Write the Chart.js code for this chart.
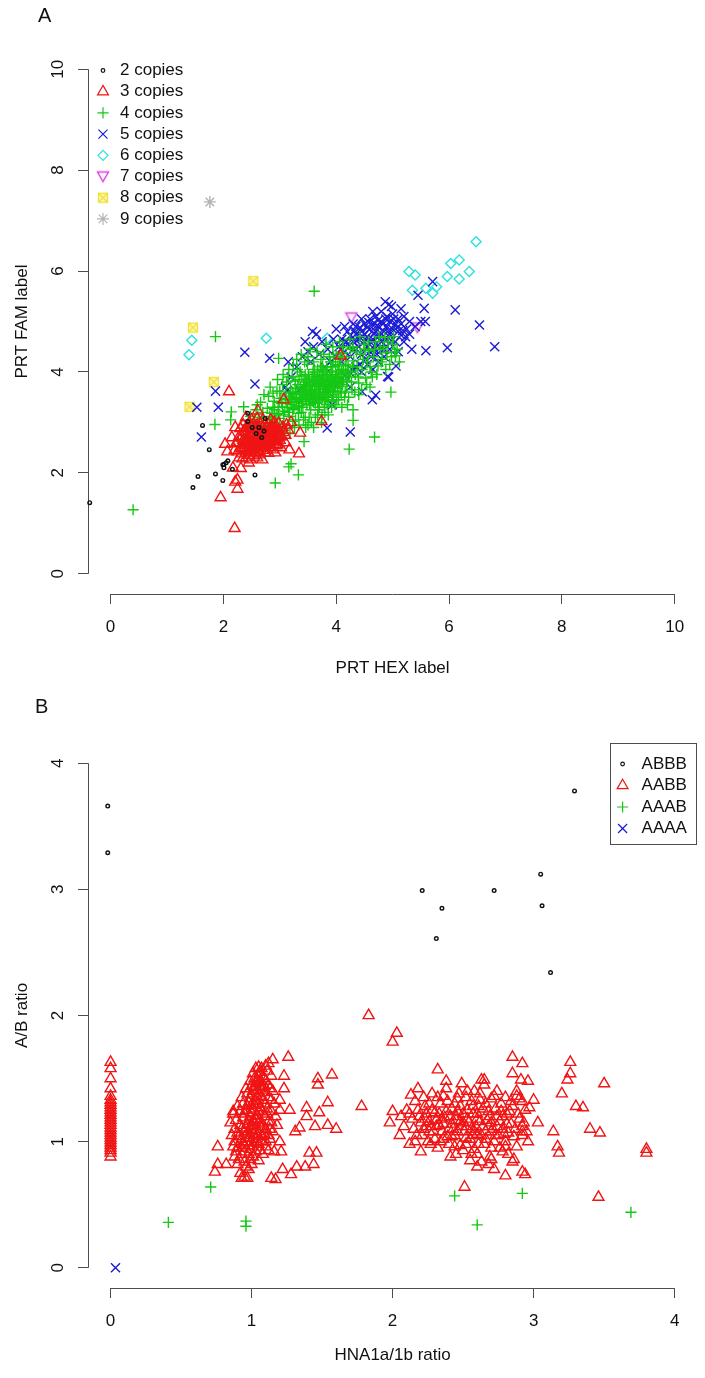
<!DOCTYPE html>
<html>
<head>
<meta charset="utf-8">
<script src="https://cdn.jsdelivr.net/npm/chart.js@4"></script>
<style>
  body { margin: 0; background: #fff; font-family: "Liberation Sans", Arial, sans-serif; }
  #wrap { position: relative; width: 705px; height: 1378px; }
  canvas { position: absolute; left: 0; }
  .tag { position: absolute; font-size: 20px; color: #111; line-height: 24px; }
</style>
</head>
<body>
<div id="wrap">
  <canvas id="plotA" width="705" height="690" style="top:0"></canvas>
  <canvas id="plotB" width="705" height="688" style="top:690px"></canvas>
  <div class="tag" style="left:38px;top:3px">A</div>
  <div class="tag" style="left:35px;top:694px">B</div>
</div>
<script>
// ---- panel A : PRT HEX (x) vs PRT FAM (y), by copy number
const hexTicks = [0, 2, 4, 6, 8, 10];
const famTicks = [0, 2, 4, 6, 8, 10];
const copyLabels = ['2 copies', '3 copies', '4 copies', '5 copies', '6 copies', '7 copies', '8 copies', '9 copies'];

const copies2 = [[-0.37,1.41],[1.63,2.94],[1.75,2.46],[1.55,1.93],[1.46,1.71],[1.86,1.98],[1.99,1.85],[1.99,2.16],
  [2.01,2.17],[2.05,2.2],[2.01,2.1],[2.08,2.24],[2.16,2.07],[2.56,1.96],[2.43,3.02],[2.43,3.18],[2.51,2.9],
  [2.63,2.9],[2.72,2.83],[2.74,3.08],[2.58,2.78],[2.68,2.7]];

const copies3 = [[2.3,2.5],[2.35,2.65],[2.4,2.45],[2.4,2.8],[2.45,2.6],[2.45,2.35],[2.5,2.7],[2.5,2.5],[2.5,2.9],
  [2.55,2.6],[2.55,2.4],[2.55,2.8],[2.6,2.7],[2.6,2.5],[2.6,2.95],[2.65,2.6],[2.65,2.8],[2.65,2.4],[2.7,2.7],
  [2.7,2.55],[2.7,2.9],[2.75,2.65],[2.75,2.8],[2.75,2.5],[2.8,2.75],[2.8,2.6],[2.8,2.95],[2.85,2.7],[2.85,2.85],
  [2.85,2.55],[2.9,2.8],[2.9,2.65],[2.95,2.75],[2.95,2.9],[3.0,2.8],[3.0,2.65],[3.05,2.9],[3.1,2.75],[2.38,2.55],
  [2.42,2.72],[2.48,2.58],[2.52,2.78],[2.58,2.52],[2.62,2.62],[2.68,2.74],[2.72,2.62],[2.78,2.7],[2.82,2.82],
  [2.88,2.72],[2.92,2.88],[2.32,2.38],[2.28,2.3],[2.45,2.2],[2.6,2.3],[2.35,2.95],[2.5,3.05],[2.7,3.05],[2.9,3.0],
  [3.1,2.6],[3.15,2.85],[2.25,2.6],[2.2,2.45],[2.66,2.5],[2.56,2.68],[2.46,2.88],[2.76,2.92],[2.96,2.56],[3.2,3.0],
  [2.15,2.7],[2.4,3.1],
  [2.33,2.72],[2.37,2.48],[2.43,2.62],[2.47,2.42],[2.53,2.55],[2.57,2.86],[2.63,2.76],[2.67,2.66],[2.73,2.45],
  [2.77,2.58],[2.83,2.65],[2.87,2.78],[2.93,2.62],[2.97,2.7],[3.03,2.72],[3.07,2.8],[2.52,2.65],[2.62,2.86],
  [2.72,2.78],[2.82,2.5],[2.42,2.9],[2.36,2.82],[2.28,2.72],[2.22,2.58],[2.26,2.42],[2.34,2.28],[2.54,2.34],
  [2.64,2.36],[2.74,2.4],[2.88,2.46],[2.98,2.98],[3.12,2.95],[2.84,3.05],[2.6,3.08],[2.46,3.0],[2.3,2.88],
  [3.02,2.5],[2.92,2.4],[2.5,2.4],[2.4,2.3],
  [2.36,2.58],[2.44,2.68],[2.52,2.72],[2.58,2.62],[2.64,2.7],[2.68,2.58],[2.74,2.72],[2.78,2.82],[2.84,2.75],
  [2.88,2.62],[2.46,2.5],[2.54,2.46],[2.62,2.44],[2.7,2.62],[2.76,2.55],[2.92,2.72],[3.0,2.72],[2.4,2.62],
  [2.48,2.8],[2.56,2.9],[2.66,2.96],[2.72,2.52],[2.8,2.68],[2.86,2.92],[2.6,2.6],[2.5,2.6],[2.7,2.8],[2.9,2.9],
  [2.32,2.48],[2.96,2.82],
  [2.1,3.61],[2.2,0.9],[1.95,1.51],[2.25,1.68],[2.21,1.82],[2.25,1.86],[2.31,2.09],[2.17,2.1],[2.03,2.57],
  [2.07,2.42],[2.21,2.9],[3.34,2.38],[3.17,2.46],[3.07,3.45],[3.74,3.02],[4.08,4.32],[3.36,2.79],[2.61,3.23],
  [2.69,2.26],[2.48,2.26],[2.8,2.39],[2.94,2.54]];

const copies4 = [[2.32,2.62],[2.41,2.95],[2.48,3.12],[2.55,2.82],[2.58,3.25],[2.63,2.95],[2.66,3.4],[2.71,3.08],
  [2.74,2.78],[2.78,3.28],[2.8,3.52],[2.84,3.0],[2.86,3.18],[2.9,3.42],[2.93,2.86],[2.95,3.62],[2.97,3.3],[3.0,3.08],
  [3.02,3.48],[3.05,3.75],[3.07,2.96],[3.09,3.22],[3.11,3.58],[3.13,3.38],[3.15,3.9],[3.17,3.12],[3.19,3.68],
  [3.21,3.48],[3.23,3.02],[3.25,3.28],[3.27,3.82],[3.29,3.58],[3.31,4.05],[3.33,3.18],[3.35,3.42],[3.37,3.7],
  [3.39,3.92],[3.41,3.3],[3.43,3.55],[3.45,3.1],[3.47,3.8],[3.49,4.15],[3.51,3.45],[3.53,3.65],[3.55,3.25],
  [3.57,3.9],[3.59,3.55],[3.61,4.05],[3.63,3.38],[3.65,3.75],[3.67,3.15],[3.69,3.6],[3.71,3.95],[3.73,4.25],
  [3.75,3.48],[3.77,3.72],[3.79,3.3],[3.81,3.88],[3.83,4.1],[3.85,3.6],[3.87,3.42],[3.89,3.8],[3.91,4.0],
  [3.93,3.55],[3.95,4.3],[3.97,3.7],[3.99,3.88],[4.01,3.45],[4.03,4.12],[4.05,3.78],[4.07,3.62],[4.09,3.98],
  [4.11,4.38],[4.13,3.85],[4.15,3.5],[4.17,4.15],[4.19,3.72],[4.21,4.02],[4.23,3.9],[4.25,4.45],[4.28,3.65],
  [4.31,4.22],[4.34,3.95],[4.37,4.1],[4.4,3.78],[4.43,4.35],[4.46,4.05],[4.49,4.55],[4.52,3.88],[4.55,4.2],
  [4.58,4.42],[4.62,4.0],[4.66,4.3],[4.7,4.6],[4.74,4.12],[4.78,4.45],[4.82,4.25],[4.86,4.68],[4.9,4.38],
  [4.95,4.15],[5.0,4.55],[5.05,4.32],
  [3.3,3.5],[3.35,3.6],[3.4,3.45],[3.42,3.75],[3.46,3.62],[3.5,3.55],[3.52,3.85],[3.55,3.72],[3.58,3.42],
  [3.6,3.82],[3.62,3.65],[3.64,3.5],[3.66,3.9],[3.68,3.78],[3.7,3.45],[3.72,3.68],[3.74,3.85],[3.76,3.58],
  [3.78,4.0],[3.8,3.75],[3.82,3.5],[3.84,3.95],[3.86,3.7],[3.88,3.85],[3.9,3.62],[3.92,3.78],[3.94,4.1],
  [3.96,3.82],[3.98,3.6],[4.0,3.95],[4.02,3.72],[4.04,3.9],[4.06,4.2],[4.08,3.8],[4.1,4.05],[3.48,3.35],
  [3.56,3.58],[3.62,3.95],[3.7,3.3],[3.76,4.12],[3.84,3.35],[3.9,4.2],[3.45,3.95],[3.38,3.2],[3.32,3.75],
  [3.25,3.55],[3.2,3.35],[3.15,3.2],[3.1,3.45],[3.05,3.3],[2.98,3.18],[2.92,3.05],[2.88,3.3],[2.82,3.12],
  [2.76,2.95],[2.7,3.2],[2.68,2.85],[2.62,3.1],[2.52,2.98],[2.45,2.78],
  [2.55,3.05],[2.6,3.35],[2.65,2.7],[2.72,3.55],[2.78,2.9],[2.83,3.7],[2.88,3.58],[2.94,2.7],[2.96,3.85],
  [3.0,3.62],[3.04,2.8],[3.06,3.95],[3.1,2.88],[3.12,3.8],[3.16,4.05],[3.18,2.78],[3.22,3.9],[3.24,4.15],
  [3.26,2.9],[3.28,3.05],[3.3,4.25],[3.34,2.95],[3.36,4.0],[3.38,4.35],[3.42,3.05],[3.44,4.2],[3.46,2.9],
  [3.5,4.3],[3.52,3.1],[3.54,4.45],[3.56,3.0],[3.6,4.2],[3.63,3.1],[3.66,4.4],[3.68,3.25],[3.72,4.1],[3.74,3.0],
  [3.78,4.35],[3.8,3.2],[3.82,4.55],[3.86,3.15],[3.88,4.3],[3.92,3.3],[3.94,4.5],[3.98,3.35],[4.0,4.35],
  [4.04,3.45],[4.06,4.6],[4.1,3.3],[4.12,4.5],[4.16,3.6],[4.18,4.3],[4.22,3.5],[4.24,4.65],[4.27,3.8],[4.3,4.5],
  [4.33,3.6],[4.36,4.4],[4.39,3.9],[4.42,4.7],[4.45,3.65],[4.48,4.25],[4.51,4.45],[4.54,3.75],[4.57,4.6],
  [4.6,4.1],[4.64,3.9],[4.68,4.45],[4.72,3.95],[4.76,4.7],[4.8,4.2],[4.84,4.5],[4.88,4.05],[4.92,4.6],
  [4.98,4.3],[5.02,4.7],[5.08,4.45],[5.12,4.2],
  [3.3,3.4],[3.36,3.55],[3.44,3.7],[3.5,3.85],[3.58,3.75],[3.64,3.85],[3.7,3.72],[3.76,3.92],[3.82,3.65],
  [3.88,3.95],[3.94,3.7],[4.0,3.82],[3.54,3.52],[3.6,3.4],[3.68,3.55],[3.74,3.45],[3.8,3.6],[3.86,3.55],
  [3.92,3.45],[3.46,3.48],[3.4,3.65],[3.34,3.85],[3.28,3.68],[3.22,3.6],[3.16,3.52],
  [3.33,3.33],[3.37,3.48],[3.41,3.58],[3.45,3.72],[3.49,3.68],[3.53,3.78],[3.57,3.62],[3.61,3.72],[3.65,3.6],
  [3.69,3.85],[3.73,3.78],[3.77,3.82],[3.81,3.72],[3.85,3.82],[3.89,3.68],[3.93,3.92],[3.97,3.76],[4.01,3.88],
  [4.05,4.02],[4.09,3.9],[4.13,4.05],[4.17,3.95],[4.21,4.12],[4.25,4.0],[4.29,4.1],[3.39,3.38],[3.47,3.52],
  [3.55,3.48],[3.63,3.55],[3.71,3.52],[3.79,3.65],[3.87,3.62],[3.95,3.62],[4.03,3.68],[4.11,3.75],[4.19,3.82],
  [3.43,3.85],[3.51,3.95],[3.59,4.0],[3.67,4.05],[3.75,4.02],[3.83,4.05],[3.91,4.1],[3.99,4.15],[4.07,4.28],
  [3.27,3.42],[3.23,3.25],[3.19,3.45],[3.13,3.3],[3.07,3.15],[3.03,3.38],[2.99,3.4],[2.95,3.15],[2.91,3.25],
  [3.35,3.3],[3.53,3.35],[3.67,3.4],[3.81,3.45],[3.95,3.5],[4.09,3.58],
  [3.6,2.9],[3.5,2.95],[3.75,3.15],[4.2,3.35],[4.4,3.55],[4.6,3.7],[4.3,3.25],
  [0.4,1.27],[3.61,5.6],[1.86,4.7],[1.85,2.96],[2.14,3.21],[2.13,3.05],[2.36,3.31],[2.92,1.8],[3.16,2.12],
  [3.2,2.18],[3.33,1.96],[4.23,2.47],[4.68,2.71],[4.3,3.04],[4.97,3.6],[5.04,4.4],[2.98,4.27],[3.01,2.69],[3.43,2.62]];

const copies5 = [[4.0,4.3],[4.05,4.5],[4.1,4.2],[4.1,4.65],[4.15,4.4],[4.2,4.55],[4.2,4.8],[4.25,4.3],[4.3,4.6],
  [4.3,4.45],[4.35,4.75],[4.35,4.9],[4.4,4.5],[4.4,4.65],[4.45,4.8],[4.45,4.35],[4.5,4.6],[4.5,4.95],[4.55,4.7],
  [4.55,4.5],[4.6,4.85],[4.6,4.4],[4.6,5.05],[4.65,4.65],[4.65,4.95],[4.7,4.55],[4.7,4.8],[4.7,5.1],[4.75,4.7],
  [4.75,4.9],[4.8,4.6],[4.8,5.0],[4.8,5.2],[4.85,4.8],[4.85,4.45],[4.9,4.9],[4.9,5.1],[4.9,4.65],[4.95,5.0],
  [4.95,4.75],[5.0,4.85],[5.0,5.15],[5.05,4.95],[5.05,4.6],[5.1,5.05],[5.1,4.8],[5.15,4.95],[5.2,5.1],[5.25,4.85],
  [5.3,5.0],[4.42,4.15],[4.52,4.25],[4.62,4.3],[4.72,4.35],[4.28,4.05],[3.9,4.2],[3.85,4.45],[3.8,4.1],[3.75,4.6],
  [3.7,4.35],[3.65,4.75],[3.6,4.5],[3.95,4.65],[4.0,4.85],[3.55,4.2],[3.5,4.4],[3.4,4.3],[3.3,4.1],[3.45,4.6],
  [3.9,3.75],[4.05,3.8],[4.15,3.95],[4.25,3.7],[4.35,4.1],[4.45,4.0],[4.55,4.15],[4.65,4.05],[4.75,4.2],[4.85,4.3],
  [4.95,4.45],[5.1,4.4],[5.2,4.6],[5.3,4.75],[5.4,4.9],[5.5,5.0],[4.98,5.3],[5.15,5.25],[4.65,5.2],[4.45,5.05],
  [4.3,4.95],[4.15,4.9],[3.2,3.9],[3.1,3.7],[3.15,4.2],[3.35,3.65],
  [4.5,4.75],[4.55,4.88],[4.62,4.58],[4.67,4.75],[4.72,4.92],[4.78,4.78],[4.83,4.95],[4.88,5.05],[4.58,4.98],
  [4.42,4.88],[4.36,4.62],[4.25,4.72],[4.18,4.6],[4.08,4.45],[4.93,4.82],[5.02,5.05],[5.08,4.88],[4.74,5.02],
  [4.47,4.7],[4.32,4.82],[4.85,4.65],[4.78,4.48],[4.68,4.45],[4.98,4.62],[5.18,4.82],
  [2.38,4.39],[2.82,4.27],[1.86,3.62],[1.53,3.3],[1.91,3.3],[1.61,2.71],[3.84,2.89],[4.25,2.81],[3.13,3.63],
  [2.56,3.76],[3.58,4.8],[6.11,5.23],[6.54,4.93],[6.81,4.5],[5.97,4.48],[5.59,4.42],[5.34,4.45],[5.58,5.0],
  [5.56,5.26],[5.45,5.52],[5.71,5.79],[5.06,4.12],[4.93,3.9],[4.93,5.33],[4.87,5.39],[5.15,4.73],[5.23,4.7],
  [4.64,3.45],[4.46,3.61],[4.7,3.54],[4.91,3.91],[4.26,3.97],[3.93,3.35]];

const copies6 = [[1.44,4.63],[1.39,4.34],[2.76,4.67],[3.84,4.67],[5.29,5.99],[5.4,5.92],[5.35,5.62],[5.59,5.66],
  [5.71,5.56],[5.78,5.69],[5.97,5.89],[6.03,6.15],[6.18,6.22],[6.18,5.84],[6.36,5.99],[6.48,6.58]];
const copies7 = [[4.27,5.08],[5.44,4.88]];
const copies8 = [[2.53,5.8],[1.46,4.88],[1.83,3.8],[1.4,3.31]];
const copies9 = [[1.76,7.37]];

// ---- panel B : HNA1a/1b ratio (x) vs A/B ratio (y), by genotype
const hnaTicks = [0, 1, 2, 3, 4];
const abTicks = [0, 1, 2, 3, 4];
const genoLabels = ['ABBB', 'AABB', 'AAAB', 'AAAA'];

const abbb = [[-0.02,3.66],[-0.02,3.29],[2.21,2.99],[2.35,2.85],[2.31,2.61],[2.72,2.99],[3.05,3.12],[3.06,2.87],
  [3.12,2.34],[3.29,3.78]];

const aabb = [
  // ratio 0 column
  [0,0.88],[0,0.91],[0,0.93],[0,0.95],[0,0.97],[0,0.99],[0,1.01],[0,1.03],[0,1.05],[0,1.07],[0,1.09],[0,1.11],
  [0,1.13],[0,1.15],[0,1.17],[0,1.19],[0,1.21],[0,1.23],[0,1.25],[0,1.27],[0,1.29],[0,1.31],[0,1.33],[0,1.36],
  [0,1.42],[0,1.5],[0,1.58],[0,1.63],
  // group near 1
  [0.95,0.72],[0.92,0.75],[0.98,0.78],[0.9,0.82],[0.95,0.84],[1.0,0.82],[1.05,0.85],[0.88,0.88],[0.93,0.9],
  [0.98,0.9],[1.03,0.92],[1.08,0.9],[0.9,0.95],[0.95,0.97],[1.0,0.96],[1.05,0.98],[1.1,0.96],[0.88,1.0],
  [0.93,1.02],[0.98,1.03],[1.03,1.02],[1.08,1.04],[1.13,1.02],[0.9,1.07],[0.95,1.08],[1.0,1.09],[1.05,1.08],
  [1.1,1.1],[0.92,1.13],[0.97,1.14],[1.02,1.15],[1.07,1.14],[1.12,1.16],[0.94,1.19],[0.99,1.2],[1.04,1.21],
  [1.09,1.2],[0.96,1.25],[1.01,1.26],[1.06,1.27],[1.11,1.26],[0.98,1.31],[1.03,1.32],[1.08,1.33],[1.0,1.37],
  [1.05,1.38],[1.1,1.39],[1.02,1.43],[1.07,1.44],[1.12,1.45],[1.04,1.49],[1.09,1.5],[1.06,1.55],[1.11,1.56],
  [1.1,1.6],[1.14,1.52],[1.15,1.4],[1.16,1.3],[1.17,1.2],[1.15,1.08],[0.86,1.05],[0.85,1.15],[0.87,1.22],
  [0.9,1.28],[0.93,1.35],[0.96,1.42],[0.99,1.48],[1.01,1.54],[1.03,1.58],[0.97,1.0],[1.02,1.06],[1.06,1.12],
  [0.96,1.11],[1.01,1.17],[1.05,1.24],[1.0,1.29],[1.04,1.35],[1.08,1.41],[1.06,1.47],[1.12,1.35],[1.13,1.1],
  [1.07,1.0],[0.93,0.95],[0.99,0.86],[1.12,0.93],[1.2,1.0],[1.18,1.13],[1.2,1.25],
  [0.91,0.86],[0.96,0.8],[1.01,0.88],[1.06,0.93],[0.89,0.92],[0.94,0.99],[0.99,0.94],[1.04,1.0],[1.09,1.06],
  [0.91,1.04],[0.96,1.05],[1.01,1.12],[1.06,1.17],[1.11,1.22],[0.93,1.1],[0.98,1.16],[1.03,1.18],[1.08,1.24],
  [0.95,1.22],[1.0,1.23],[1.05,1.3],[1.1,1.3],[0.97,1.28],[1.02,1.29],[1.07,1.36],[0.99,1.34],[1.04,1.41],
  [1.09,1.44],[1.01,1.4],[1.06,1.43],[1.03,1.46],[1.08,1.52],[1.05,1.51],[1.1,1.48],[1.13,1.42],[1.14,1.33],
  [1.14,1.24],[1.14,1.15],[1.12,1.05],[1.1,1.0],[0.87,0.96],[0.88,1.1],[0.89,1.17],[0.92,1.24],[0.94,1.3],
  [0.97,1.38],[1.0,1.44],[1.02,1.5],[1.07,1.58],[1.12,1.62],[1.0,1.0],[1.04,1.05],[0.97,1.07],[1.03,1.1],
  [0.98,0.97],[1.02,0.99],[0.95,0.92],[1.08,1.12],[1.05,1.15],[1.0,1.13],
  [1.26,1.67],[1.15,1.65],[1.05,1.59],[1.23,1.52],[1.23,1.42],[1.2,1.33],[1.27,1.25],[1.39,1.27],[1.39,1.2],
  [1.47,1.5],[1.47,1.45],[1.57,1.53],[1.54,1.31],[1.48,1.23],[1.45,1.12],[1.54,1.13],[1.6,1.1],[1.34,1.11],
  [1.31,1.08],[1.78,1.28],[1.83,2.0],[0.76,0.96],[0.87,1.24],
  [1.14,0.71],[1.17,0.7],[1.22,0.78],[1.28,0.74],[1.32,0.8],[1.38,0.8],[1.44,0.82],[1.41,0.91],[1.46,0.91],
  [1.16,0.92],[1.21,0.92],[0.74,0.76],[0.76,0.82],[0.93,0.71],[0.97,0.71],[0.82,0.82],
  // group near 2.5
  [2.08,1.12],[2.1,1.25],[2.12,0.98],[2.14,1.18],[2.16,1.32],[2.17,1.05],[2.19,1.2],[2.2,0.92],[2.22,1.1],
  [2.23,1.28],[2.25,1.0],[2.26,1.16],[2.28,1.38],[2.29,1.08],[2.3,1.23],[2.32,0.95],[2.33,1.13],[2.34,1.3],
  [2.36,1.02],[2.37,1.19],[2.38,1.42],[2.4,1.1],[2.41,0.88],[2.42,1.26],[2.44,1.05],[2.45,1.17],[2.46,1.34],
  [2.48,0.97],[2.49,1.12],[2.5,1.22],[2.52,1.03],[2.53,1.4],[2.54,1.15],[2.56,0.9],[2.57,1.28],[2.58,1.08],
  [2.6,1.18],[2.61,0.98],[2.62,1.33],[2.64,1.12],[2.65,1.45],[2.66,1.02],[2.68,1.24],[2.69,0.88],[2.7,1.15],
  [2.72,1.36],[2.73,1.05],[2.74,1.2],[2.76,0.95],[2.77,1.3],[2.78,1.1],[2.8,1.0],[2.81,1.22],[2.82,0.9],
  [2.84,1.14],[2.85,1.28],[2.86,1.04],[2.88,0.96],[2.9,1.18],[2.92,1.08],[2.94,1.25],[2.96,1.0],
  [2.2,1.15],[2.24,1.22],[2.27,1.12],[2.31,1.17],[2.35,1.08],[2.38,1.24],[2.42,1.14],[2.46,1.08],[2.5,1.15],
  [2.53,1.25],[2.56,1.1],[2.6,1.22],[2.63,1.05],[2.67,1.17],[2.7,1.08],[2.74,1.12],[2.78,1.2],[2.82,1.07],
  [2.26,1.3],[2.36,1.36],[2.44,1.3],[2.52,1.35],[2.58,1.4],[2.66,1.3],[2.74,1.4],[2.8,1.35],[2.3,1.02],
  [2.4,0.98],[2.5,0.93],[2.6,0.9],[2.7,0.95],[2.78,0.92],[2.55,0.85],[2.63,0.84],[2.68,0.82],[2.45,0.9],
  [2.22,1.35],[2.18,1.42],[2.15,1.1],[2.12,1.22],[2.06,1.2],[2.05,1.05],[2.88,1.4],[2.92,1.32],[2.86,0.86],
  [2.72,0.78],[2.6,0.8],
  [2.21,1.05],[2.23,1.18],[2.26,1.08],[2.28,1.25],[2.31,1.12],[2.33,1.22],[2.36,1.14],[2.39,1.04],[2.41,1.2],
  [2.43,1.1],[2.46,1.24],[2.48,1.16],[2.51,1.08],[2.53,1.18],[2.55,1.02],[2.57,1.22],[2.59,1.12],[2.62,1.16],
  [2.64,1.26],[2.66,1.08],[2.69,1.2],[2.71,1.1],[2.73,1.26],[2.76,1.16],[2.79,1.06],[2.81,1.14],[2.83,1.24],
  [2.87,1.1],[2.89,1.22],[2.27,0.98],[2.34,1.0],[2.44,0.96],[2.52,0.98],[2.58,0.94],[2.65,0.98],[2.72,1.0],
  [2.8,0.96],[2.39,1.32],[2.48,1.28],[2.56,1.32],[2.61,1.28],[2.7,1.34],[2.77,1.24],[2.84,1.32],[2.32,1.35],
  [2.24,1.12],[2.18,1.25],[2.16,1.0],[2.93,1.15],[2.95,1.08],[2.47,1.38],[2.62,1.38],[2.42,1.04],[2.57,1.05],
  [2.68,1.12],[2.35,1.18],[2.52,1.12],[2.6,1.06],[2.75,1.05],[2.45,1.2],
  [2.03,1.86],[2.0,1.79],[2.85,1.67],[2.92,1.62],[3.26,1.63],[3.26,1.54],[3.24,1.49],[2.32,1.57],[2.85,1.54],
  [2.91,1.49],[2.96,1.48],[2.38,1.48],[2.49,1.46],[2.63,1.49],[2.65,1.49],[3.5,1.46],[3.2,1.38],[3.0,1.33],
  [2.97,1.27],[2.88,1.36],[2.9,1.34],[3.3,1.28],[3.35,1.27],[3.03,1.15],[3.14,1.08],[3.4,1.1],[3.47,1.07],
  [3.8,0.94],[2.92,1.12],[2.92,1.05],[2.13,1.37],[2.0,1.24],[1.98,1.15],[3.17,0.96],
  [2.51,0.64],[3.46,0.56],[3.8,0.91],[3.18,0.91],[2.8,0.73],[2.92,0.76],[2.94,0.74],[2.85,0.84],[2.7,0.86]];

const aaab = [[0.71,0.64],[0.41,0.36],[0.96,0.37],[0.96,0.33],[2.44,0.57],[2.6,0.34],[2.92,0.59],[3.69,0.44]];
const aaaa = [[0.035,0]];

// ---- look
const axisColor = '#4d4d4d';
const textColor = '#111';
Chart.defaults.font.family = '"Liberation Sans", Arial, Helvetica, sans-serif';
Chart.defaults.font.size = 17;

function glyph(size, draw) {
  const c = document.createElement('canvas');
  c.width = c.height = size;
  draw(c.getContext('2d'));
  return c;
}
const downTri = glyph(14, g => {
  g.strokeStyle = '#e23ce2'; g.lineWidth = 1.4;
  g.beginPath(); g.moveTo(1.5, 2.5); g.lineTo(12.5, 2.5); g.lineTo(7, 12); g.closePath(); g.stroke();
});
const boxX = glyph(12, g => {
  g.fillStyle = 'rgba(245,232,60,0.35)'; g.fillRect(1.5, 1.5, 9, 9);
  g.strokeStyle = '#efe030'; g.lineWidth = 1.3;
  g.strokeRect(1.5, 1.5, 9, 9);
  g.beginPath(); g.moveTo(1.5, 1.5); g.lineTo(10.5, 10.5); g.moveTo(10.5, 1.5); g.lineTo(1.5, 10.5); g.stroke();
});

const copyStyle = [
  { shape: 'circle', r: 1.8, color: '#111111' },
  { shape: 'triangle', r: 6.3, color: '#f01414' },
  { shape: 'cross', r: 5.6, color: '#14c814' },
  { shape: 'crossRot', r: 6.4, color: '#1c1cd6' },
  { shape: 'rectRot', r: 5, color: '#2ee0e0' },
  { shape: downTri, r: 6, color: '#e23ce2' },
  { shape: boxX, r: 5, color: '#efe030' },
  { shape: 'star', r: 6, color: '#b4b4b4' }
];
const genoStyle = [copyStyle[0], copyStyle[1], copyStyle[2], copyStyle[3]];

function makeSets(series, labels, styles) {
  return series.map((pts, i) => ({
    label: labels[i],
    data: pts.map(([x, y]) => ({ x, y })),
    pointStyle: styles[i].shape,
    pointRadius: styles[i].r,
    borderColor: styles[i].color,
    backgroundColor: 'rgba(0,0,0,0)',
    borderWidth: 1.4,
    clip: 6
  }));
}

function scaleOpts(min, max, ticks, title, o) {
  return {
    type: 'linear', min, max,
    afterBuildTicks: s => { s.ticks = ticks.map(v => ({ value: v })); },
    afterFit: s => { if (s.isHorizontal()) s.height = o.size; else s.width = o.size; },
    border: { display: false },
    grid: { drawOnChartArea: false, drawTicks: true, tickLength: 10, color: axisColor, lineWidth: 1 },
    ticks: {
      autoSkip: false, padding: o.pad, color: textColor,
      minRotation: o.rot, maxRotation: o.rot, crossAlign: o.rot ? 'center' : 'near'
    },
    title: { display: true, text: title, color: textColor, padding: { top: o.tpad, bottom: o.tpad } }
  };
}

// axis lines from first to last tick, R style
const axisLines = {
  id: 'axisLines',
  beforeDatasetsDraw(chart) {
    const { ctx, chartArea: a, scales: { x, y } } = chart;
    const xs = x.ticks.map(t => x.getPixelForValue(t.value));
    const ys = y.ticks.map(t => y.getPixelForValue(t.value));
    const by = Math.round(a.bottom) + 0.5, lx = Math.round(a.left) + 0.5;
    ctx.save();
    ctx.strokeStyle = axisColor; ctx.lineWidth = 1;
    ctx.beginPath();
    ctx.moveTo(Math.min(...xs), by); ctx.lineTo(Math.max(...xs), by);
    ctx.moveTo(lx, Math.min(...ys)); ctx.lineTo(lx, Math.max(...ys));
    ctx.stroke();
    ctx.restore();
  }
};

// legend inside the plot
const keyPlugin = {
  id: 'key',
  afterDatasetsDraw(chart, args, opts) {
    const { ctx, chartArea: a } = chart;
    const bx = opts.boxW ? a.right - opts.boxW : a.left;
    ctx.save();
    if (opts.boxW) {
      ctx.fillStyle = '#fff';
      ctx.fillRect(bx, a.top, opts.boxW, opts.boxH);
      ctx.strokeStyle = axisColor; ctx.lineWidth = 1;
      ctx.strokeRect(Math.round(bx) + 0.5, Math.round(a.top) + 0.5, opts.boxW - 1, opts.boxH);
    }
    chart.data.datasets.forEach((ds, i) => {
      const y = a.top + opts.top + i * opts.step;
      ctx.fillStyle = 'rgba(0,0,0,0)';
      ctx.strokeStyle = ds.borderColor;
      ctx.lineWidth = 1.2;
      Chart.helpers.drawPoint(ctx, { pointStyle: ds.pointStyle, radius: ds.pointRadius, borderWidth: 1.2, rotation: 0 }, bx + opts.symX, y);
      ctx.fillStyle = textColor;
      ctx.font = '17px "Liberation Sans", Arial, sans-serif';
      ctx.textBaseline = 'middle'; ctx.textAlign = 'left';
      ctx.fillText(ds.label, bx + opts.textX, y);
    });
    ctx.restore();
  }
};

const common = {
  responsive: false, devicePixelRatio: 1, animation: false, events: []
};

new Chart(document.getElementById('plotA'), {
  type: 'scatter',
  data: { datasets: makeSets([copies2, copies3, copies4, copies5, copies6, copies7, copies8, copies9], copyLabels, copyStyle) },
  options: {
    ...common,
    layout: { padding: { top: 49, right: 7.5, left: 0, bottom: 0 } },
    scales: {
      x: scaleOpts(-0.4, 10.4, hexTicks, 'PRT HEX label', { size: 96, pad: 12.8, rot: 0, tpad: 11.8 }),
      y: scaleOpts(-0.4, 10.4, famTicks, 'PRT FAM label', { size: 88, pad: 10.5, rot: 90, tpad: 11.8 })
    },
    plugins: {
      legend: { display: false }, tooltip: { enabled: false },
      key: { top: 21.5, step: 21.2, symX: 15, textX: 32 }
    }
  },
  plugins: [axisLines, keyPlugin]
});

new Chart(document.getElementById('plotB'), {
  type: 'scatter',
  data: { datasets: makeSets([abbb, aabb, aaab, aaaa], genoLabels, genoStyle) },
  options: {
    ...common,
    layout: { padding: { top: 53, right: 7.5, left: 0, bottom: 0 } },
    scales: {
      x: scaleOpts(-0.16, 4.16, hnaTicks, 'HNA1a/1b ratio', { size: 90, pad: 12.8, rot: 0, tpad: 12.8 }),
      y: scaleOpts(-0.16, 4.16, abTicks, 'A/B ratio', { size: 88, pad: 15.3, rot: 90, tpad: 11.8 })
    },
    plugins: {
      legend: { display: false }, tooltip: { enabled: false },
      key: { boxW: 87, boxH: 101, top: 21, step: 21.5, symX: 12.4, textX: 31.4 }
    }
  },
  plugins: [axisLines, keyPlugin]
});
</script>
</body>
</html>
